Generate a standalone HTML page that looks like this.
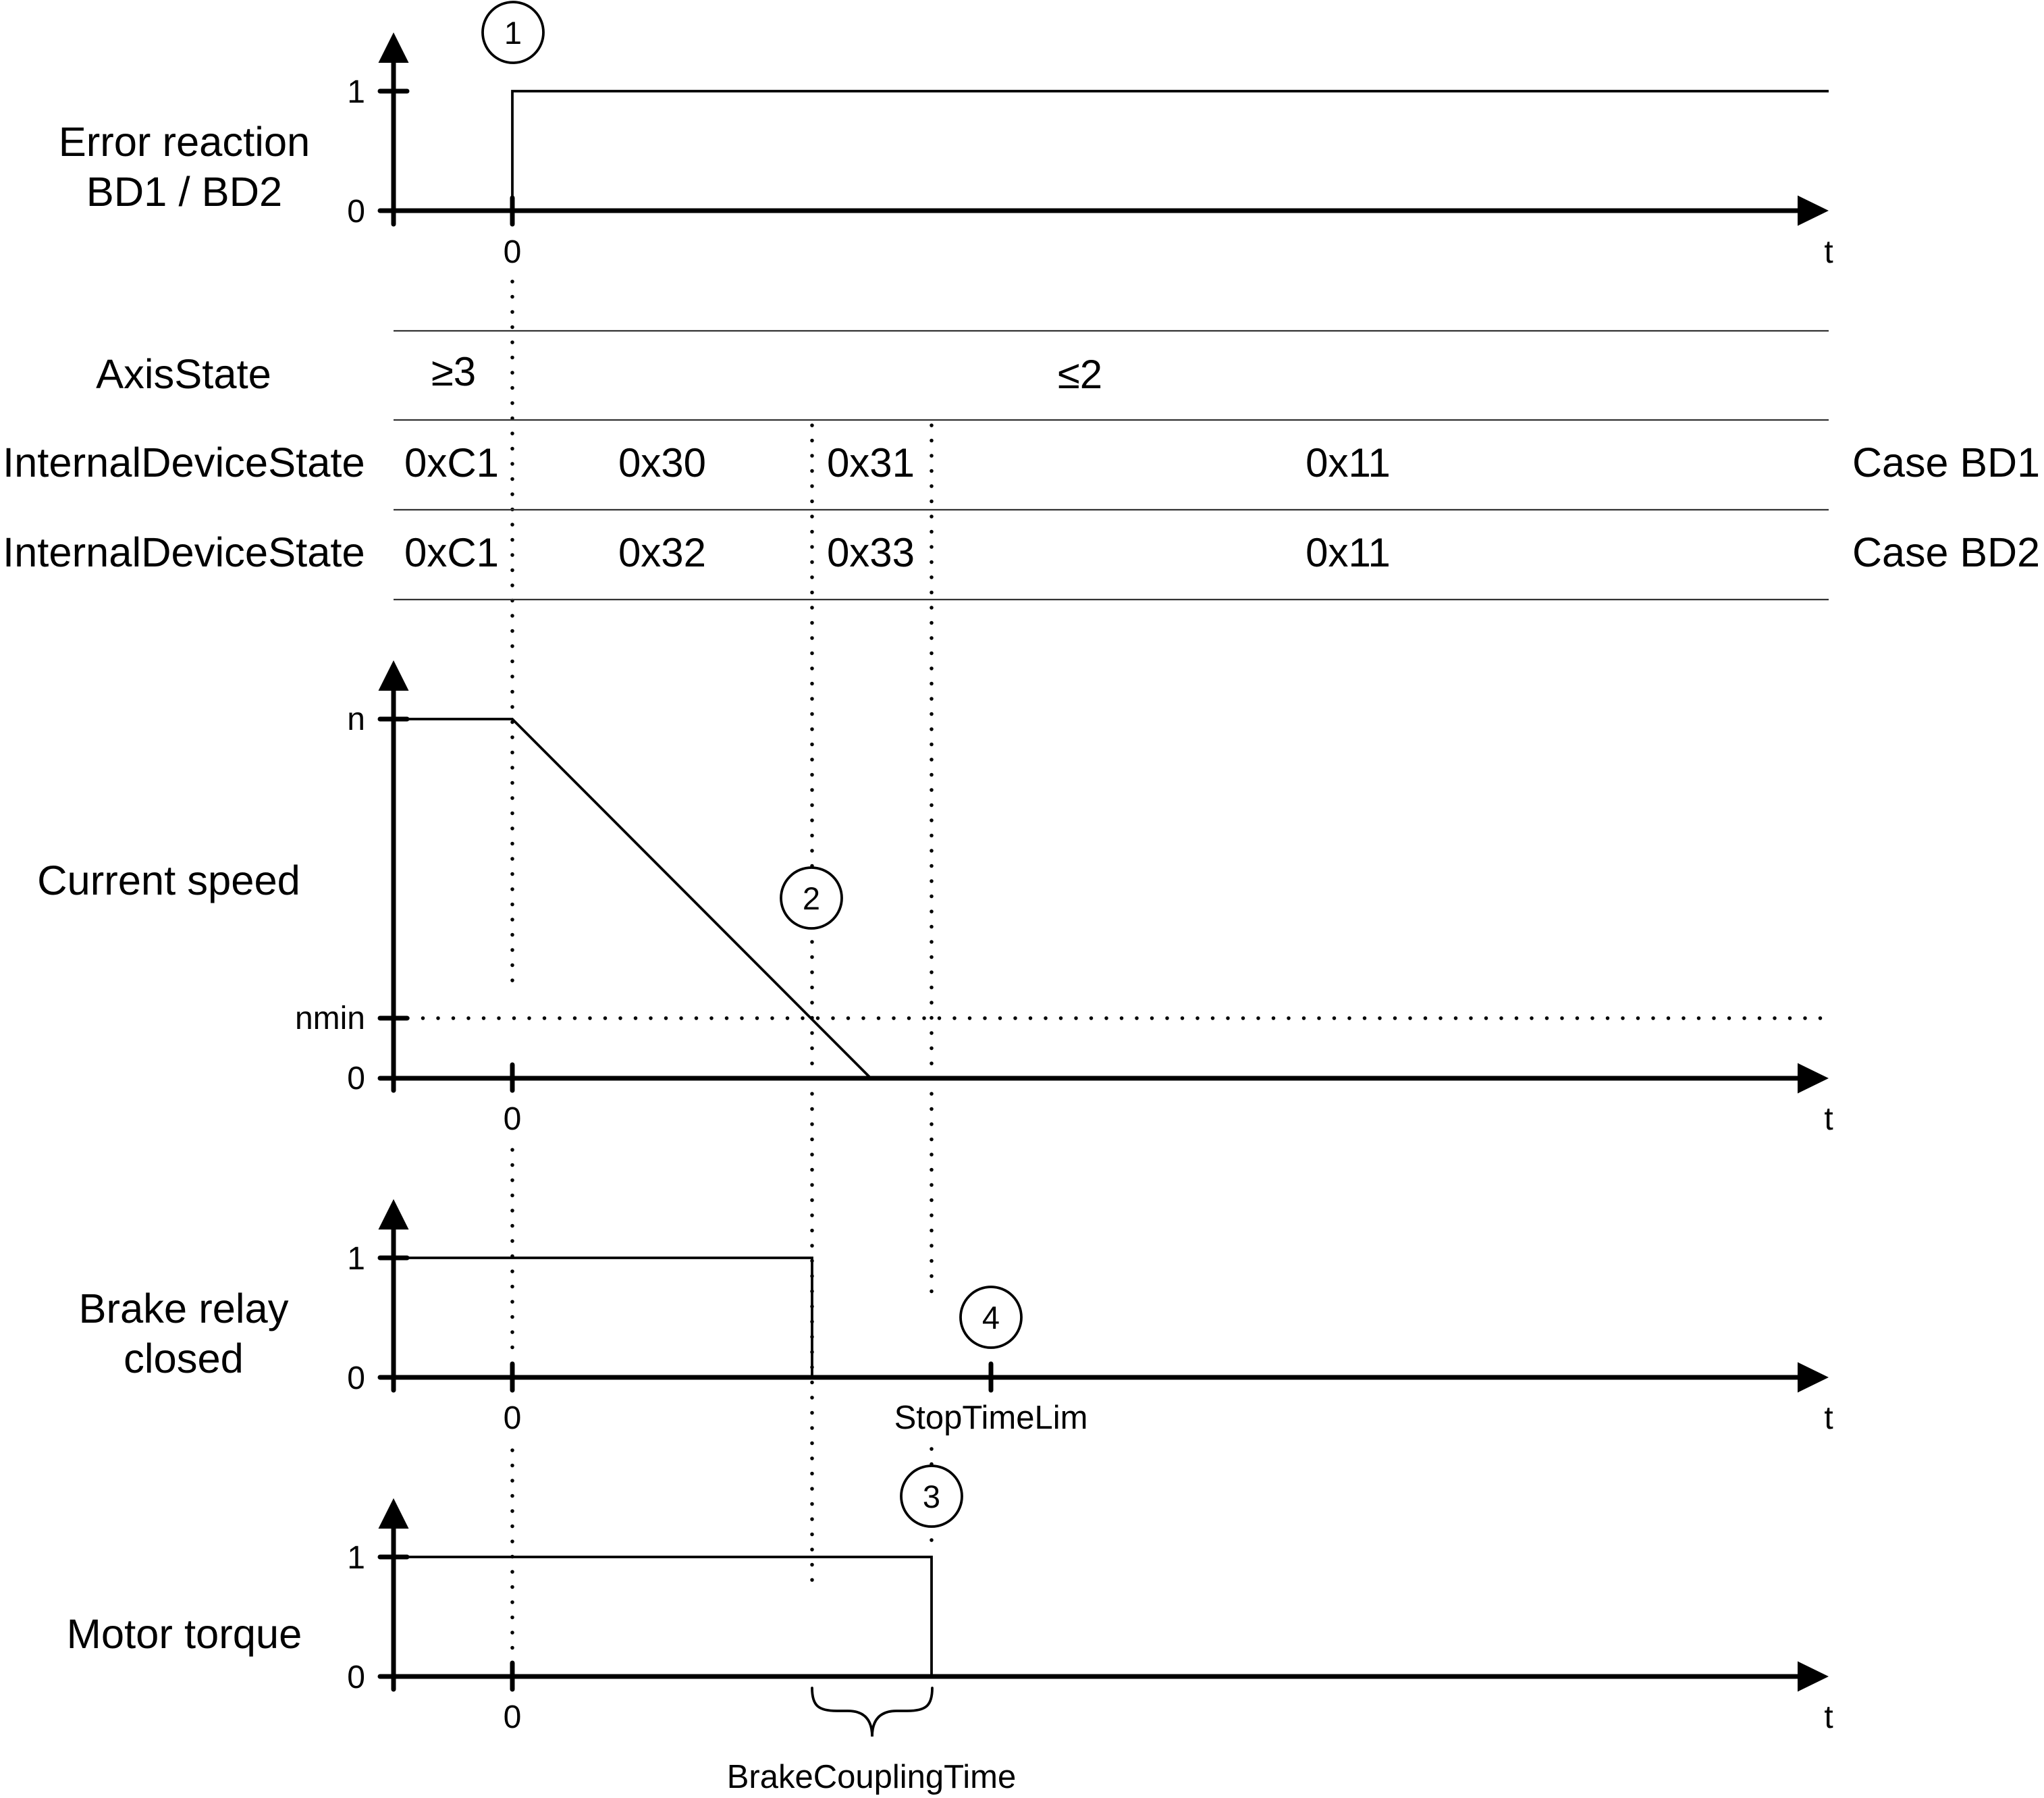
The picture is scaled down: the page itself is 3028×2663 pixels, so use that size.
<!DOCTYPE html>
<html>
<head>
<meta charset="utf-8">
<style>
html,body{margin:0;padding:0;background:#fff;}
svg{display:block;}
text{font-family:"Liberation Sans",Arial,sans-serif;fill:#000;}
</style>
</head>
<body>
<svg width="3028" height="2663" viewBox="0 0 3028 2663" xmlns="http://www.w3.org/2000/svg">
<rect x="0" y="0" width="3028" height="2663" fill="#fff"/>

<!-- dotted guide lines -->
<g stroke="#000" stroke-width="5.5" stroke-linecap="round" stroke-dasharray="0 22.5" fill="none">
  <line x1="759" y1="417" x2="759" y2="1456"/>
  <line x1="759" y1="1703" x2="759" y2="1998"/>
  <line x1="759" y1="2148" x2="759" y2="2447"/>
  <line x1="1203" y1="630" x2="1203" y2="2344"/>
  <line x1="1380" y1="630" x2="1380" y2="1916"/>
  <line x1="1380" y1="2146" x2="1380" y2="2292"/>
  <line x1="604" y1="1508" x2="2700" y2="1508"/>
</g>

<!-- table lines -->
<g stroke="#333" stroke-width="2.2">
  <line x1="583" y1="490" x2="2709" y2="490"/>
  <line x1="583" y1="622" x2="2709" y2="622"/>
  <line x1="583" y1="755" x2="2709" y2="755"/>
  <line x1="583" y1="888" x2="2709" y2="888"/>
</g>

<!-- signals (thin) -->
<g stroke="#000" stroke-width="3.8" fill="none" stroke-linejoin="miter">
  <path d="M759 312 V135 H2709"/>
  <path d="M603 1065 H759 L1290 1597"/>
  <path d="M603 1863 H1203 V2040"/>
  <path d="M603 2306 H1380 V2483"/>
  <!-- brace -->
  <path d="M1203 2500 C1203 2526 1212 2534 1240 2534 L1256 2534 C1281 2534 1292 2548 1292 2572 C1292 2548 1303 2534 1328 2534 L1344 2534 C1372 2534 1381 2526 1381 2500" stroke-linecap="round"/>
</g>

<!-- axes -->
<g stroke="#000" stroke-width="7" stroke-linecap="round" fill="none">
  <!-- top chart -->
  <line x1="583" y1="90" x2="583" y2="332"/>
  <line x1="563" y1="312" x2="2665" y2="312"/>
  <line x1="563" y1="135" x2="603" y2="135"/>
  <line x1="759" y1="293" x2="759" y2="332"/>
  <!-- speed chart -->
  <line x1="583" y1="1020" x2="583" y2="1615"/>
  <line x1="563" y1="1597" x2="2665" y2="1597"/>
  <line x1="563" y1="1065" x2="603" y2="1065"/>
  <line x1="563" y1="1508" x2="603" y2="1508"/>
  <line x1="759" y1="1577" x2="759" y2="1615"/>
  <!-- brake chart -->
  <line x1="583" y1="1818" x2="583" y2="2059"/>
  <line x1="563" y1="2040" x2="2665" y2="2040"/>
  <line x1="563" y1="1863" x2="603" y2="1863"/>
  <line x1="759" y1="2020" x2="759" y2="2059"/>
  <line x1="1468" y1="2020" x2="1468" y2="2059"/>
  <!-- torque chart -->
  <line x1="583" y1="2261" x2="583" y2="2502"/>
  <line x1="563" y1="2483" x2="2665" y2="2483"/>
  <line x1="563" y1="2306" x2="603" y2="2306"/>
  <line x1="759" y1="2463" x2="759" y2="2502"/>
</g>

<!-- arrowheads -->
<g fill="#000" stroke="none">
  <polygon points="583,48 560.5,93 605.5,93"/>
  <polygon points="2709,312 2663,289.5 2663,334.5"/>
  <polygon points="583,978 560.5,1023 605.5,1023"/>
  <polygon points="2709,1597 2663,1574.5 2663,1619.5"/>
  <polygon points="583,1776 560.5,1821 605.5,1821"/>
  <polygon points="2709,2040 2663,2017.5 2663,2062.5"/>
  <polygon points="583,2219 560.5,2264 605.5,2264"/>
  <polygon points="2709,2483 2663,2460.5 2663,2505.5"/>
</g>

<!-- numbered circles -->
<g stroke="#000" stroke-width="3.8" fill="#fff">
  <circle cx="760" cy="48" r="45"/>
  <circle cx="1202" cy="1330" r="45"/>
  <circle cx="1468" cy="1951" r="45"/>
  <circle cx="1380" cy="2216" r="45"/>
</g>
<g font-size="47" text-anchor="middle">
  <text x="760" y="65">1</text>
  <text x="1202" y="1347">2</text>
  <text x="1468" y="1968">4</text>
  <text x="1380" y="2233">3</text>
</g>

<!-- left labels -->
<g font-size="61.5" text-anchor="middle">
  <text x="273" y="231">Error reaction</text>
  <text x="273" y="305">BD1 / BD2</text>
  <text x="272" y="575">AxisState</text>
  <text x="250" y="1325">Current speed</text>
  <text x="272" y="1959">Brake relay</text>
  <text x="272" y="2033">closed</text>
  <text x="273" y="2441">Motor torque</text>
</g>
<g font-size="61.5">
  <text x="4" y="706">InternalDeviceState</text>
  <text x="4" y="839">InternalDeviceState</text>
</g>

<!-- table values -->
<g font-size="60" text-anchor="middle">
  <text x="672" y="571">≥3</text>
  <text x="1600" y="575">≤2</text>
  <text x="669" y="706">0xC1</text>
  <text x="981" y="706">0x30</text>
  <text x="1290" y="706">0x31</text>
  <text x="1997" y="706">0x11</text>
  <text x="669" y="839">0xC1</text>
  <text x="981" y="839">0x32</text>
  <text x="1290" y="839">0x33</text>
  <text x="1997" y="839">0x11</text>
</g>
<g font-size="61">
  <text x="2744" y="706">Case BD1</text>
  <text x="2744" y="839">Case BD2</text>
</g>

<!-- y tick labels -->
<g font-size="48" text-anchor="end">
  <text x="541" y="152">1</text>
  <text x="541" y="329">0</text>
  <text x="541" y="1081">n</text>
  <text x="541" y="1524">nmin</text>
  <text x="541" y="1613">0</text>
  <text x="541" y="1880">1</text>
  <text x="541" y="2057">0</text>
  <text x="541" y="2323">1</text>
  <text x="541" y="2500">0</text>
</g>

<!-- x labels -->
<g font-size="48" text-anchor="middle">
  <text x="759" y="389">0</text>
  <text x="2709" y="389">t</text>
  <text x="759" y="1673">0</text>
  <text x="2709" y="1673">t</text>
  <text x="759" y="2116">0</text>
  <text x="2709" y="2116">t</text>
  <text x="759" y="2559">0</text>
  <text x="2709" y="2559">t</text>
</g>
<g font-size="49" text-anchor="middle">
  <text x="1468" y="2116">StopTimeLim</text>
  <text x="1291" y="2648">BrakeCouplingTime</text>
</g>
</svg>
</body>
</html>
